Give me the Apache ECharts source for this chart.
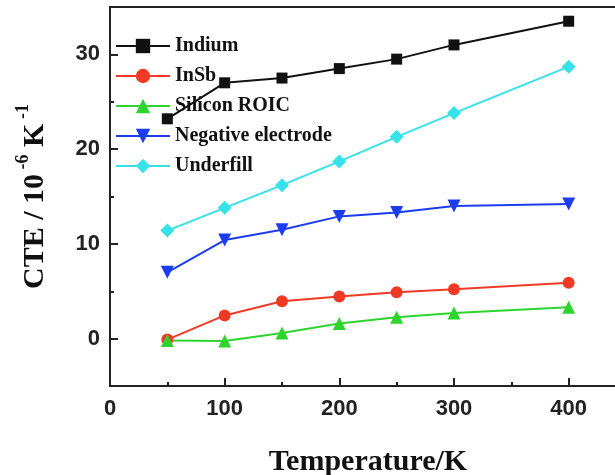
<!DOCTYPE html>
<html style="height: 100%">
<head>
    <meta charset="utf-8">
    <title>CTE vs Temperature</title>
    <script src="https://cdn.jsdelivr.net/npm/echarts@6/dist/echarts.min.js"></script>
</head>
<body style="height: 100%; margin: 0; background: #fff">
<div id="container" style="width: 615px; height: 475px"></div>
<script type="text/javascript">

    // data
    let temperature = [50, 100, 150, 200, 250, 300, 400];
    let indium     = [23.2, 27.0, 27.5, 28.5, 29.5, 31.0, 33.5];
    let insb       = [-0.1, 2.45, 3.95, 4.45, 4.9, 5.2, 5.9];
    let siliconRoic = [-0.2, -0.25, 0.6, 1.6, 2.25, 2.7, 3.3];
    let negElectrode = [7.0, 10.4, 11.5, 12.9, 13.3, 14.0, 14.2];
    let underfill  = [11.4, 13.8, 16.2, 18.7, 21.3, 23.8, 28.7];

    let yMajor = [0, 10, 20, 30];
    let yMinor = [5, 15, 25];

    let seriesNames = ['Indium', 'InSb', 'Silicon ROIC', 'Negative electrode', 'Underfill'];
    let seriesData = [indium, insb, siliconRoic, negElectrode, underfill];
    let colors = ['#111111', '#f03a26', '#2ed42e', '#1c3cf0', '#36e2ea'];
    let symbols = ['rect', 'circle', 'triangle', 'path://M0,0 L10,0 L5,9 Z', 'diamond'];
    let symbolSizes = [11, 12, 13, 13, 14];

    let dom = document.getElementById("container");
    let chart = echarts.init(dom);

    function pairs(ys) {
        return ys.map(function (y, i) { return [temperature[i], y]; });
    }

    let axisFont = {fontFamily: 'Liberation Sans', fontWeight: 'bold', fontSize: 22, color: '#222'};
    let lineStyle = {color: '#222', width: 2};

    chart.setOption({
        animation: false,
        grid: {
            left: 110, top: 7, width: 516, height: 379,
            outerBoundsMode: 'none', containLabel: false,
            show: true, borderColor: '#222', borderWidth: 2, backgroundColor: 'transparent'
        },
        legend: {
            orient: 'vertical',
            left: 110, top: 31,
            itemWidth: 54, itemHeight: 18, itemGap: 10,
            data: seriesNames,
            textStyle: {fontFamily: 'Liberation Serif', fontWeight: 'bold', fontSize: 20, color: '#111'}
        },
        xAxis: {
            type: 'value', min: 0, max: 450, interval: 100, position: 'bottom',
            name: 'Temperature/K', nameLocation: 'middle', nameGap: 61,
            nameTextStyle: {fontFamily: 'Liberation Serif', fontWeight: 'bold', fontSize: 30, color: '#111'},
            axisLine: {onZero: false, lineStyle: lineStyle},
            axisTick: {inside: true, length: 8, lineStyle: lineStyle},
            minorTick: {show: true, splitNumber: 2, length: 4, lineStyle: lineStyle},
            axisLabel: Object.assign({
                margin: 12, showMaxLabel: false,
                formatter: function (v) { return v > 400 ? '' : String(v); }
            }, axisFont),
            splitLine: {show: false}
        },
        yAxis: [
            {
                type: 'value', min: -5, max: 35,
                name: '{b|CTE / 10}{s| -6}{b| K}{s| -1}', nameLocation: 'middle', nameGap: 60, nameRotate: 90,
                nameTextStyle: {
                    rich: {
                        b: {fontFamily: 'Liberation Serif', fontWeight: 'bold', fontSize: 30, color: '#111', verticalAlign: 'bottom', lineHeight: 36},
                        s: {fontFamily: 'Liberation Serif', fontWeight: 'bold', fontSize: 18, color: '#111', verticalAlign: 'top', lineHeight: 36}
                    }
                },
                axisLine: {onZero: false, lineStyle: lineStyle},
                axisTick: {inside: true, length: 8, customValues: yMajor, lineStyle: lineStyle},
                axisLabel: Object.assign({margin: 10, customValues: yMajor}, axisFont),
                splitLine: {show: false}
            },
            {
                type: 'value', min: -5, max: 35, position: 'left',
                axisLine: {show: false, onZero: false},
                axisTick: {inside: true, length: 4, customValues: yMinor, lineStyle: lineStyle},
                axisLabel: {show: false}, splitLine: {show: false}
            }
        ],
        series: seriesNames.map(function (name, i) {
            return {
                name: name,
                type: 'line',
                xAxisIndex: 0, yAxisIndex: 0,
                data: pairs(seriesData[i]),
                symbol: symbols[i],
                symbolSize: symbolSizes[i],
                showAllSymbol: true,
                itemStyle: {color: colors[i]},
                lineStyle: {color: colors[i], width: 2}
            };
        })
    });

</script>
</body>
</html>
